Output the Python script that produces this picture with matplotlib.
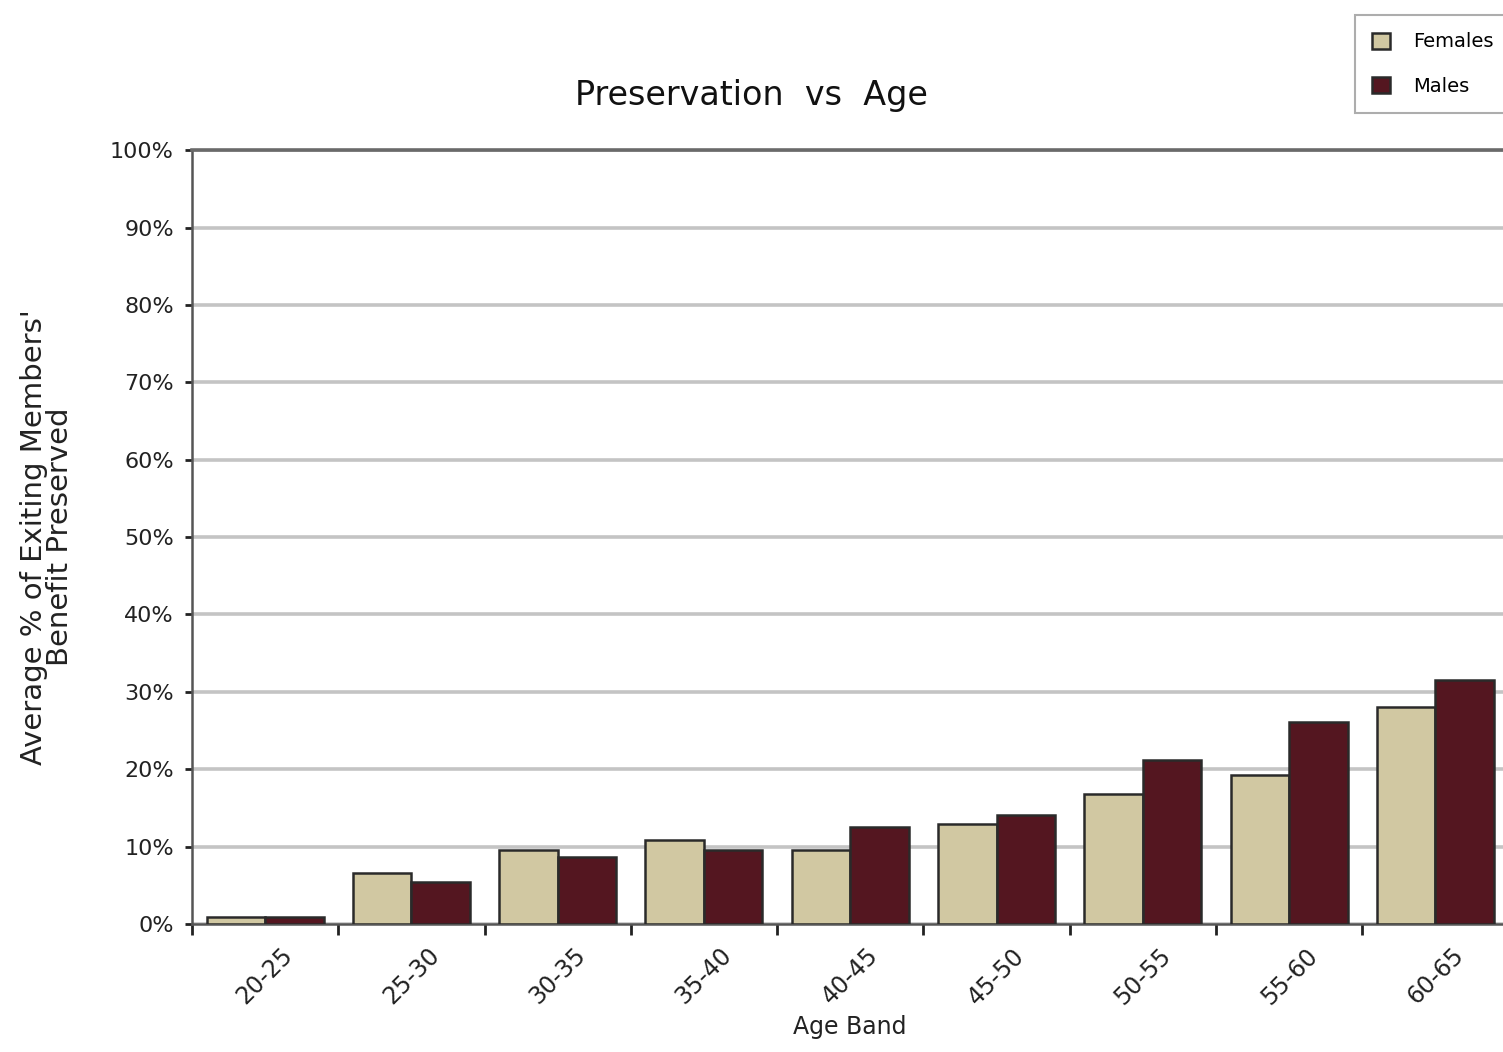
import matplotlib
matplotlib.use("Agg")
import matplotlib.pyplot as plt
import numpy as np

# Data
age_bands = ["20-25", "25-30", "30-35", "35-40", "40-45", "45-50", "50-55", "55-60", "60-65"]
females = [0.9, 6.6, 9.6, 10.9, 9.6, 12.9, 16.8, 19.3, 28.0]
males = [0.9, 5.4, 8.7, 9.6, 12.5, 14.1, 21.2, 26.1, 31.5]
y_ticks = [0, 10, 20, 30, 40, 50, 60, 70, 80, 90, 100]

female_color = "#D1C8A2"
male_color = "#541620"

plt.rcParams["font.family"] = ["DejaVu Sans"]

fig = plt.figure(figsize=(15.03, 10.52), dpi=100)
ax = fig.add_axes([0.1277, 0.1217, 0.876, 0.7355])

x = np.arange(len(age_bands))
w = 0.4
ax.bar(x - w / 2, females, width=w, color=female_color, edgecolor="#2a2a2a",
       linewidth=1.8, label="Females", zorder=3)
ax.bar(x + w / 2, males, width=w, color=male_color, edgecolor="#2a2a2a",
       linewidth=1.8, label="Males", zorder=3)

ax.set_xlim(-0.5, len(age_bands) - 0.5)
ax.set_ylim(0, 100)

ax.set_yticks(y_ticks)
ax.set_yticklabels([f"{v}%" for v in y_ticks], fontsize=16, color="#222222")
ax.yaxis.grid(True, color="#c4c4c4", linewidth=2.6, zorder=0)
ax.tick_params(axis="y", length=5, width=2, direction="out", pad=8, color="#222222")

# Category labels centred under the groups, tick marks between groups
ax.set_xticks(np.arange(len(age_bands) + 1) - 0.5)
ax.set_xticklabels([])
ax.set_xticks(x, minor=True)
ax.set_xticklabels(age_bands, minor=True, rotation=45, fontsize=17,
                   color="#222222", ha="center", va="top")
ax.tick_params(axis="x", which="major", length=8, width=2, direction="out", color="#222222")
ax.tick_params(axis="x", which="minor", length=0, pad=14)

for side in ["left", "bottom"]:
    ax.spines[side].set_color("#555555")
    ax.spines[side].set_linewidth(1.8)
ax.spines["top"].set_color("#6a6a6a")
ax.spines["top"].set_linewidth(2.6)
ax.spines["right"].set_visible(False)

ax.set_xlabel("Age Band", fontsize=17, color="#222222", labelpad=4)
ax.set_ylabel("Average % of Exiting Members'\nBenefit Preserved", fontsize=21,
              color="#222222", labelpad=26, linespacing=0.92)

fig.text(0.5, 0.909, "Preservation  vs  Age", ha="center", va="center",
         fontsize=24, color="#111111")

leg = fig.legend(loc="upper right", bbox_to_anchor=(1.012, 0.995), fontsize=14,
                 frameon=True, fancybox=False, edgecolor="#999999",
                 handlelength=0.9, handleheight=0.9, labelspacing=1.3,
                 borderpad=0.9, handletextpad=1.2)
leg.get_frame().set_linewidth(1.5)

fig.savefig("out.png", dpi=100)
